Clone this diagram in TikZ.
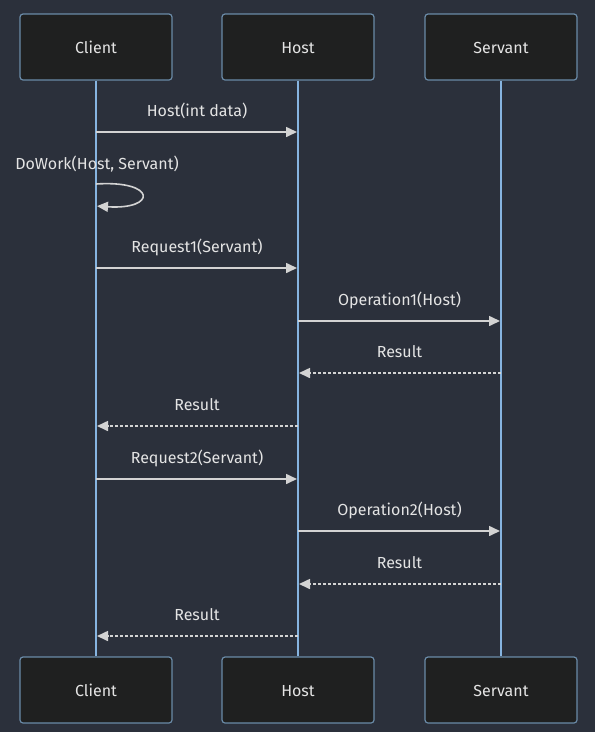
\documentclass[tikz,border=0pt]{standalone}
\usepackage{fontspec}
\setmainfont{Fira Sans}
\usetikzlibrary{arrows.meta,calc}
\definecolor{bgcol}{HTML}{2B303B}
\definecolor{boxcol}{HTML}{1F2020}
\definecolor{boxline}{HTML}{6A8BA8}
\definecolor{lifecol}{HTML}{86B4E0}
\definecolor{msgcol}{HTML}{D3D3D3}
\definecolor{txtcol}{HTML}{E4E4E4}

\begin{document}
\begin{tikzpicture}
[x=1pt,y=-1pt,font=\fontsize{16}{19}\selectfont]
\tikzset{actor/.style={rectangle,draw=boxline,fill=boxcol,line width=1.2pt,rounded corners=3pt,minimum width=152pt,minimum height=66pt,text height=13pt,text depth=1pt,text=txtcol}}
\tikzset{life/.style={draw=lifecol,line width=1.5pt}}
\tikzset{msg/.style={draw=msgcol,line width=1.6pt,-{Triangle[length=11pt,width=10pt]},shorten >=1pt}}
\tikzset{reply/.style={msg,dash pattern=on 3pt off 2pt}}
\tikzset{lbl/.style={text=txtcol}}

\fill [bgcol] (0,0) rectangle (595,732);
\useasboundingbox (0,0) rectangle (595,732);

\node [actor] (c1) at (96,47) {Client};
\node [actor] (h1) at (298,47) {Host};
\node [actor] (s1) at (501,47) {Servant};
\node [actor] (c2) at (96,690) {Client};
\node [actor] (h2) at (298,690) {Host};
\node [actor] (s2) at (501,690) {Servant};

\foreach \from/\to in {c1/c2,h1/h2,s1/s2}
	\draw [life] (\from) -- (\to);

% calls
\foreach \from/\to/\y/\txt in {c1/h1/132/Host(int data),c1/h1/268/Request1(Servant),h1/s1/321/Operation1(Host),c1/h1/479/Request2(Servant),h1/s1/531/Operation2(Host)}
{
	\draw [msg] (\from |- 0,\y) -- (\to |- 0,\y);
	\node [lbl,anchor=base] at ($(\from |- 0,\y)!0.5!(\to |- 0,\y)+(0,-16)$) {\txt};
}
% replies
\foreach \from/\to/\y in {s1/h1/373,h1/c1/426,s1/h1/584,h1/c1/636}
{
	\draw [reply] (\from |- 0,\y) -- (\to |- 0,\y);
	\node [lbl,anchor=base] at ($(\from |- 0,\y)!0.5!(\to |- 0,\y)+(0,-16)$) {Result};
}

% self call
\node [lbl] (dw) at (97,164) {DoWork(Host, Servant)};
\draw [msg] (c1 |- 0,184) .. controls (157,180) and (157,210) .. (c1 |- 0,206);

\end{tikzpicture}
\end{document}
